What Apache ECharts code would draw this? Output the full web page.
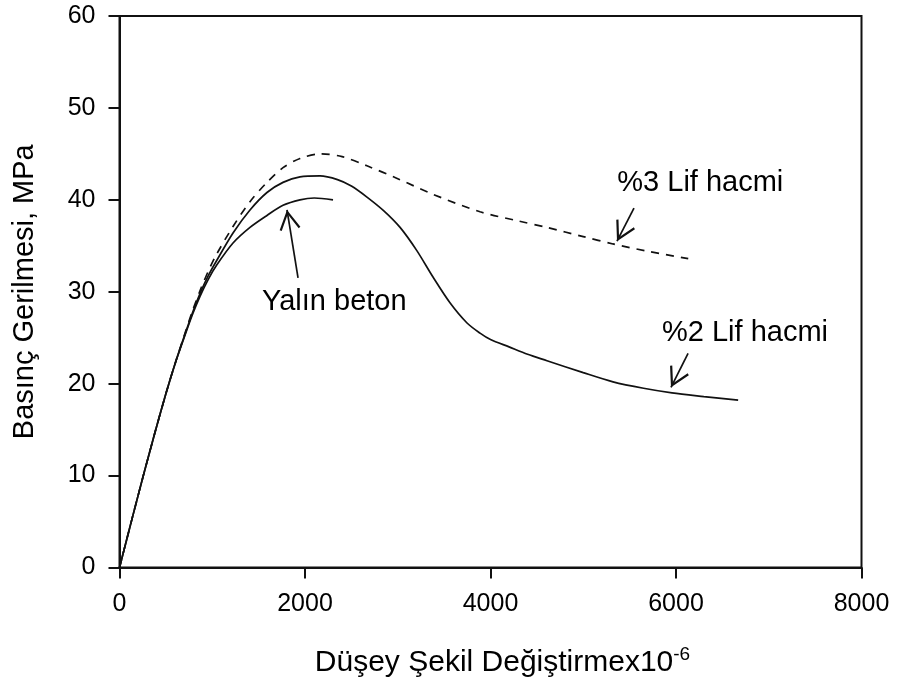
<!DOCTYPE html>
<html>
<head>
<meta charset="utf-8">
<script src="https://cdn.jsdelivr.net/npm/echarts@6/dist/echarts.min.js"></script>
<style>
html,body{margin:0;padding:0;background:#fff;}
#chart{width:899px;height:686px;}
</style>
</head>
<body>
<div id="chart"></div>
<script>
// ---- data ----
var strain2 = [0, 130, 257, 380, 500, 600, 700, 790, 868, 960, 1048, 1224, 1407, 1590, 1763, 1946, 2162, 2350, 2500, 2668, 2850, 3025, 3204, 3380, 3563, 3747, 3887, 4000, 4200, 4400, 4609, 5000, 5321, 5650, 5957, 6300, 6670];
var stress2 = [0, 5.1, 10.0, 14.6, 18.9, 22.2, 25.2, 27.8, 29.8, 31.8, 33.4, 36.4, 38.9, 40.8, 41.9, 42.5, 42.6, 42.2, 41.5, 40.3, 38.8, 37.0, 34.5, 31.6, 28.8, 26.6, 25.5, 24.8, 24.0, 23.2, 22.5, 21.2, 20.2, 19.5, 19.0, 18.6, 18.2];

var strain3 = [0, 130, 257, 380, 500, 600, 700, 790, 868, 960, 1048, 1224, 1407, 1590, 1763, 1946, 2162, 2400, 2668, 3000, 3380, 3887, 4300, 4609, 5000, 5321, 5700, 6132];
var stress3 = [0, 5.1, 10.0, 14.6, 18.9, 22.2, 25.3, 28.0, 30.1, 32.3, 34.1, 37.1, 39.8, 41.9, 43.5, 44.5, 45.0, 44.7, 43.7, 42.3, 40.6, 38.7, 37.7, 37.0, 36.0, 35.2, 34.4, 33.6];

var strainPlain = [0, 130, 257, 380, 500, 600, 700, 790, 868, 960, 1048, 1224, 1407, 1590, 1763, 1946, 2100, 2302];
var stressPlain = [0, 5.1, 10.0, 14.6, 18.9, 22.2, 25.1, 27.6, 29.5, 31.4, 32.9, 35.3, 37.0, 38.3, 39.4, 40.0, 40.2, 40.0];

var xTicks = [0, 2000, 4000, 6000, 8000];
var yTicks = [0, 10, 20, 30, 40, 50, 60];

var labelTexts = ['Yalın beton', '%3 Lif hacmi', '%2 Lif hacmi'];
var labelX = [2316, 6262, 6744];
var labelY = [28.9, 41.8, 25.5];

var arrowFromX = [1925, 5547, 6130];
var arrowFromY = [31.5, 39.1, 23.3];
var arrowToX = [1806, 5364, 5946];
var arrowToY = [38.9, 35.5, 19.6];

function pairs(xs, ys) { return xs.map(function (x, i) { return [x, ys[i]]; }); }

var FONT = '"Liberation Sans", Arial, sans-serif';
var INK = '#000';

var labelData = labelTexts.map(function (t, i) { return { name: t, value: [labelX[i], labelY[i]] }; });
var arrowData = labelTexts.map(function (t, i) {
  return [{ coord: [arrowFromX[i], arrowFromY[i]] }, { coord: [arrowToX[i], arrowToY[i]] }];
});

// open V arrow head; tiny sub-path above the tip puts the tip at the symbol centre
var chevron = 'path://M0,-17 L0.01,-17 L0,-16.99 Z M0,0 L10,16 L8.2,17 L0,3.8 L-8.2,17 L-10,16 Z';

var chart = echarts.init(document.getElementById('chart'), null, { renderer: 'canvas' });
chart.setOption({
  animation: false,
  backgroundColor: '#fff',
  grid: { left: 119.5, right: 37.5, top: 16, bottom: 118.5, show: true, borderColor: '#111', borderWidth: 2, backgroundColor: 'transparent' },
  xAxis: {
    type: 'value', min: xTicks[0], max: xTicks[xTicks.length - 1], interval: xTicks[1] - xTicks[0],
    name: 'Düşey Şekil Değiştirmex10{sup|-6}',
    nameLocation: 'middle', nameGap: 78,
    nameTextStyle: { fontFamily: FONT, fontSize: 30, color: INK, padding: [0, 0, 0, 24], rich: { sup: { fontFamily: FONT, fontSize: 19, color: INK, padding: [0, 0, 15, 0] } } },
    axisLine: { lineStyle: { color: '#111', width: 2 } },
    axisTick: { show: true, inside: false, length: 11, lineStyle: { color: '#111', width: 2 } },
    axisLabel: { fontFamily: FONT, fontSize: 25, color: INK, margin: 24, formatter: function (v) { return String(v); } },
    splitLine: { show: false }
  },
  yAxis: {
    type: 'value', min: yTicks[0], max: yTicks[yTicks.length - 1], interval: yTicks[1] - yTicks[0],
    name: 'Basınç Gerilmesi, MPa',
    nameLocation: 'middle', nameGap: 80, nameRotate: 90,
    nameTextStyle: { fontFamily: FONT, fontSize: 29, color: INK },
    axisLine: { lineStyle: { color: '#111', width: 2 } },
    axisTick: { show: true, inside: false, length: 11, lineStyle: { color: '#111', width: 2 } },
    axisLabel: { fontFamily: FONT, fontSize: 25, color: INK, margin: 24, formatter: function (v) { return String(v); } },
    splitLine: { show: false }
  },
  series: [
    {
      name: '%2 Lif hacmi', type: 'line', data: pairs(strain2, stress2), smooth: 0.3,
      showSymbol: false, lineStyle: { color: '#111', width: 1.7 }
    },
    {
      name: '%3 Lif hacmi', type: 'line', data: pairs(strain3, stress3), smooth: 0.3,
      showSymbol: false, lineStyle: { color: '#111', width: 1.7, type: [8, 7] }
    },
    {
      name: 'Yalın beton', type: 'line', data: pairs(strainPlain, stressPlain), smooth: 0.3,
      showSymbol: false, lineStyle: { color: '#111', width: 1.7 }
    },
    {
      name: 'labels', type: 'scatter', data: labelData, symbolSize: 0, silent: true,
      itemStyle: { opacity: 1 },
      label: { show: true, position: 'inside', formatter: '{b}', fontFamily: FONT, fontSize: 29, color: INK, opacity: 1 },
      markLine: {
        silent: true, animation: false,
        symbol: ['none', chevron], symbolSize: [21, 40],
        lineStyle: { color: '#111', width: 1.7, type: 'solid', opacity: 1 },
        label: { show: false },
        data: arrowData
      }
    }
  ]
});
</script>
</body>
</html>
